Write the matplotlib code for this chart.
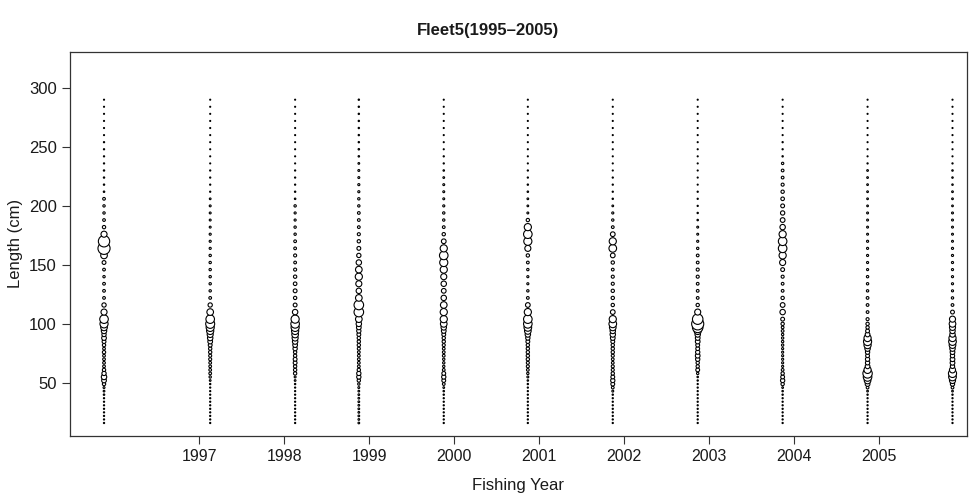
import numpy as np
import matplotlib
matplotlib.use('Agg')
import matplotlib.pyplot as plt

# length bins (cm): 3 cm below 100, 6 cm above
len_lo = [16, 19, 22, 25, 28, 31, 34, 37, 40, 43, 46, 49, 52, 55, 58, 61, 64, 67, 70, 73,
          76, 79, 82, 85, 88, 91, 94, 97, 100]
len_hi = [104, 110, 116, 122, 128, 134, 140, 146, 152, 158, 164, 170, 176, 182, 188, 194,
          200, 206, 212, 218, 224, 230, 236, 242, 248, 254, 260, 266, 272, 278, 284, 290]

# sample position on the year axis
years = [1995.88, 1997.13, 1998.13, 1998.88, 1999.88, 2000.87, 2001.87, 2002.87,
         2003.87, 2004.87, 2005.87]
tick_years = [1997, 1998, 1999, 2000, 2001, 2002, 2003, 2004, 2005]

# proportions at length (per mille), one pair of lists per sample
p_lo_1 = [0.4, 0.4, 0.4, 0.4, 0.4, 0.4, 0.4, 0.4, 0.6, 0.8, 1, 3, 6, 8, 5, 3, 2, 2, 2, 2,
          3, 2, 3, 4, 6, 5, 8, 12, 18]
p_hi_1 = [20, 10, 5, 2, 2, 2, 1.5, 2, 4, 12, 40, 35, 10, 3, 2, 1.5, 1.5, 2, 0.6, 0.5, 0.5,
          0.5, 0.4, 0.4, 0.4, 0.4, 0.3, 0.3, 0.3, 0.3, 0.3, 0.3]

p_lo_2 = [0.4, 0.4, 0.4, 0.4, 0.4, 0.4, 0.4, 0.4, 0.4, 0.4, 0.4, 0.5, 0.8, 1.5, 2, 2, 2, 2,
          2.5, 2.5, 3, 3, 4, 6, 8, 10, 14, 18, 22]
p_hi_2 = [20, 12, 5, 2, 1.5, 1.5, 1.5, 1.5, 1.5, 1.5, 1.2, 1.2, 1.2, 1, 1, 1, 1, 0.8, 0.4,
          0.4, 0.4, 0.4, 0.3, 0.3, 0.3, 0.3, 0.3, 0.3, 0.3, 0.3, 0.3, 0.3]

p_lo_3 = [0.4, 0.4, 0.4, 0.4, 0.4, 0.4, 0.4, 0.4, 0.4, 0.4, 0.4, 0.5, 0.8, 1, 3, 3, 3, 4,
          4, 3, 3, 5, 6, 8, 10, 12, 14, 18, 20]
p_hi_3 = [18, 8, 4, 3, 4, 3.5, 3, 2.5, 2, 2.5, 2, 2, 1.5, 1.5, 1.2, 1.2, 1.5, 0.6, 0.5, 0.4,
          0.4, 0.4, 0.3, 0.3, 0.3, 0.3, 0.3, 0.3, 0.3, 0.3, 0.3, 0.3]

p_lo_4 = [0.8, 0.8, 0.8, 0.8, 0.8, 0.8, 0.8, 0.8, 0.8, 0.8, 1, 1.5, 3, 5, 5, 3, 2, 2, 2, 2,
          2, 2.5, 3, 3, 3, 4, 5, 6, 8]
p_hi_4 = [12, 25, 25, 12, 8, 10, 14, 12, 8, 5, 4, 3, 2.5, 2, 2, 2, 1.5, 1.5, 1.2, 1.2, 1,
          1, 0.8, 0.6, 0.6, 0.5, 0.5, 0.5, 0.5, 0.5, 0.5, 0.5]

p_lo_5 = [0.4, 0.4, 0.4, 0.4, 0.4, 0.4, 0.4, 0.4, 0.5, 0.6, 0.8, 2, 4, 5, 4, 2, 1.5, 1.5,
          1.5, 2, 2, 2, 2.5, 3, 3, 4, 6, 8, 12]
p_hi_5 = [14, 14, 12, 8, 6, 8, 10, 14, 18, 20, 14, 6, 3, 2, 1.5, 1.5, 1.2, 1, 1, 1, 0.8,
          0.6, 0.4, 0.4, 0.3, 0.3, 0.3, 0.3, 0.3, 0.3, 0.3, 0.3]

p_lo_6 = [0.4, 0.4, 0.4, 0.4, 0.4, 0.4, 0.4, 0.4, 0.4, 0.4, 0.4, 0.5, 0.6, 1, 1.5, 2, 2.5,
          2.5, 3, 3, 3, 3, 3, 4, 5, 8, 12, 16, 20]
p_hi_6 = [20, 14, 6, 2, 1.5, 1.2, 1.2, 1.5, 2, 3, 10, 18, 20, 14, 3, 1, 0.8, 0.8, 0.6, 0.5,
          0.4, 0.4, 0.3, 0.3, 0.3, 0.3, 0.3, 0.3, 0.3, 0.3, 0.3, 0.3]

p_lo_7 = [0.4, 0.4, 0.4, 0.4, 0.4, 0.4, 0.4, 0.4, 0.5, 1, 2, 4, 5, 4, 3, 2.5, 2.5, 2, 2,
          2.5, 3, 3, 3, 4, 6, 8, 8, 12, 16]
p_hi_7 = [14, 6, 3, 3, 3, 2.5, 2.5, 2, 3, 6, 16, 14, 6, 2, 1.5, 1.2, 0.8, 0.5, 0.4, 0.4,
          0.4, 0.3, 0.3, 0.3, 0.3, 0.3, 0.3, 0.3, 0.3, 0.3, 0.3, 0.3]

p_lo_8 = [0.4, 0.4, 0.4, 0.4, 0.4, 0.4, 0.4, 0.4, 0.4, 0.4, 0.4, 0.4, 0.5, 0.6, 1.5, 4, 3,
          3, 5, 6, 5, 4, 4, 6, 6, 8, 14, 30, 40]
p_hi_8 = [30, 10, 3, 2, 2, 2, 2.5, 2.5, 2, 2, 1.5, 1.2, 1, 1, 0.6, 0.5, 0.4, 0.4, 0.4, 0.3,
          0.3, 0.3, 0.3, 0.3, 0.3, 0.3, 0.3, 0.3, 0.3, 0.3, 0.3, 0.3]

p_lo_9 = [0.4, 0.4, 0.4, 0.4, 0.4, 0.4, 0.4, 0.4, 0.5, 0.6, 0.8, 3, 5, 4, 3, 2, 1.2, 1.2,
          1.2, 1.2, 1.2, 1.2, 1.5, 1.5, 1.5, 1.5, 2, 2, 3]
p_hi_9 = [4, 8, 6, 3, 2, 2, 2.5, 4, 10, 14, 20, 20, 14, 8, 6, 5, 4, 3.5, 3, 2.5, 2, 2, 1.5,
          0.5, 0.4, 0.4, 0.3, 0.3, 0.3, 0.3, 0.3, 0.3]

p_lo_10 = [0.4, 0.4, 0.4, 0.4, 0.4, 0.4, 0.4, 0.4, 0.5, 0.8, 2, 6, 12, 20, 24, 14, 6, 5, 5,
           4, 5, 8, 14, 18, 14, 6, 4, 3, 3]
p_hi_10 = [2.5, 2, 2, 2, 1.5, 1.5, 1.5, 1.2, 1.2, 1.2, 1.2, 1.2, 1, 1, 1, 1, 0.8, 0.8, 0.8,
           0.8, 0.8, 0.8, 0.4, 0.3, 0.3, 0.3, 0.3, 0.3, 0.3, 0.3, 0.3, 0.3]

p_lo_11 = [0.4, 0.4, 0.4, 0.4, 0.4, 0.4, 0.4, 0.4, 0.5, 0.8, 2, 5, 10, 16, 18, 10, 5, 6, 6,
           5, 6, 8, 12, 16, 14, 8, 8, 10, 12]
p_hi_11 = [10, 4, 2, 1.5, 1.2, 1.2, 1.2, 1.2, 1.2, 1.2, 1.2, 1, 1, 1, 1, 1, 0.8, 0.8, 0.8,
           0.6, 0.6, 0.6, 0.4, 0.3, 0.3, 0.3, 0.3, 0.3, 0.3, 0.3, 0.3, 0.3]

samples = [(p_lo_1, p_hi_1), (p_lo_2, p_hi_2), (p_lo_3, p_hi_3), (p_lo_4, p_hi_4),
           (p_lo_5, p_hi_5), (p_lo_6, p_hi_6), (p_lo_7, p_hi_7), (p_lo_8, p_hi_8),
           (p_lo_9, p_hi_9), (p_lo_10, p_hi_10), (p_lo_11, p_hi_11)]

if __name__ == '__main__':

    fam = ['Liberation Sans', 'DejaVu Sans']
    axcol = '#333333'
    txtcol = '#1a1a1a'

    fig = plt.figure(figsize=(9.77, 5.04), dpi=100)
    ax = fig.add_axes([0.0717, 0.135, 0.918, 0.762])

    lengths = np.array(len_lo + len_hi)
    for yr, (lo, hi) in zip(years, samples):
        p = np.array(lo + hi)
        ax.scatter(np.full(len(lengths), yr), lengths, s=1.9 * p, marker='o',
                   facecolors='white', edgecolors='black', linewidths=0.8, zorder=3)

    ax.set_xlim(1995.48, 2006.04)
    ax.set_ylim(5, 330.5)
    ax.set_xticks(tick_years)
    ax.set_xticklabels([str(t) for t in tick_years], family=fam, fontsize=11.5)
    ax.set_yticks([50, 100, 150, 200, 250, 300])
    ax.set_yticklabels(['50', '100', '150', '200', '250', '300'], family=fam, fontsize=12)
    ax.tick_params(direction='out', length=6, width=0.8, colors=axcol, labelcolor=txtcol)
    for sp in ax.spines.values():
        sp.set_color(axcol)
        sp.set_linewidth(0.9)

    ax.set_xlabel('Fishing Year', family=fam, fontsize=12, color=txtcol, labelpad=10)
    ax.set_ylabel('Length (cm)', family=fam, fontsize=12, color=txtcol, labelpad=4)
    fig.text(0.5, 0.925, 'Fleet5(1995\u20132005)', ha='center', va='bottom',
             family=fam, fontsize=12, fontweight='bold', color=txtcol)

    plt.savefig('out.png', dpi=100)
    plt.clf()
